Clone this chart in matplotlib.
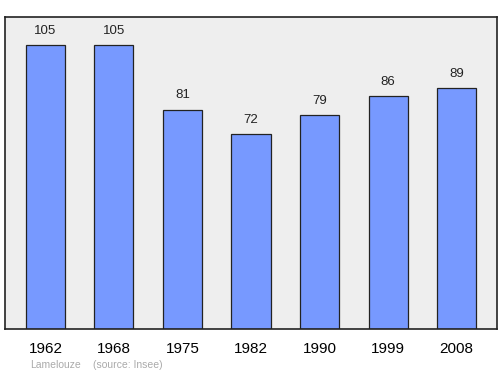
import matplotlib.pyplot as plt

plt.rcParams['font.family'] = ['Liberation Sans', 'DejaVu Sans']

years = ['1962', '1968', '1975', '1982', '1990', '1999', '2008']
population = [105, 105, 81, 72, 79, 86, 89]

fig = plt.figure(figsize=(5, 3.74), dpi=100)
ax = fig.add_axes([0.01, 0.1203, 0.984, 0.8342])
ax.set_facecolor('#eeeeee')

x = range(len(years))
ax.bar(x, population, width=0.57, color='#7799ff', edgecolor='#222222', linewidth=0.9, zorder=2)
for i, v in enumerate(population):
    ax.annotate(str(v), (i, v), xytext=(0, 6), textcoords='offset points',
                ha='center', va='bottom', fontsize=9.5, color='#222222')

ax.set_xlim(-0.59, 6.59)
ax.set_ylim(0, 115.3)
ax.set_yticks([])
ax.set_xticks(list(x))
ax.set_xticklabels(years, fontsize=11)
ax.tick_params(axis='x', length=0, pad=9)
for s in ax.spines.values():
    s.set_linewidth(1.2)
    s.set_color('#222222')

fig.text(0.06, 0.011, 'Lamelouze', fontsize=7.5, color='#aaaaaa', va='bottom')
fig.text(0.186, 0.011, '(source: Insee)', fontsize=7.5, color='#aaaaaa', va='bottom')

fig.savefig('out.png', dpi=100)
